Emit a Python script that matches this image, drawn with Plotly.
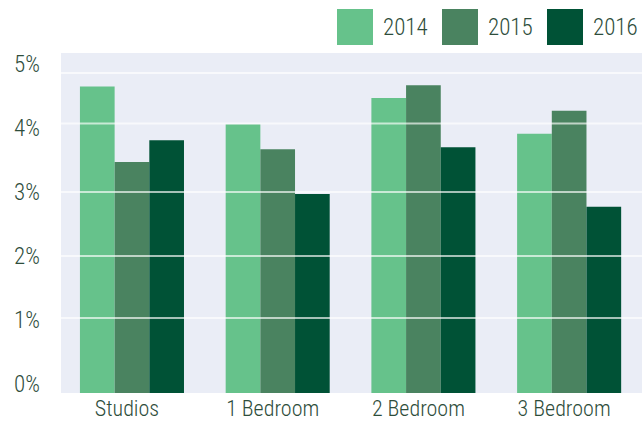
import plotly.graph_objects as go

categories = ["Studios", "1 Bedroom", "2 Bedroom", "3 Bedroom"]
years = ["2014", "2015", "2016"]
values_2014 = [4.79, 4.20, 4.61, 4.05]
values_2015 = [3.61, 3.81, 4.81, 4.41]
values_2016 = [3.95, 3.11, 3.84, 2.91]
series = [values_2014, values_2015, values_2016]
colors = ["#66C28B", "#4A8360", "#005236"]
y_tick_vals = [0, 1, 2, 3, 4, 5]
y_tick_text = ["0%", "1%", "2%", "3%", "4%", "5%"]
grid_vals = [1.17, 2.14, 3.14, 4.21, 5.0]

W, H = 642, 426
ML, MR, MT, MB = 61, 0, 53, 33
FONT = "Roboto Condensed, Liberation Sans Narrow, Arial Narrow, DejaVu Sans Condensed, sans-serif"
TEXT = "#2e4d3b"
WEIGHT = 300

fig = go.Figure()
for name, vals, col in zip(years, series, colors):
    fig.add_trace(go.Bar(x=categories, y=vals, name=name, marker_color=col,
                         marker_line_width=0, showlegend=False, hoverinfo="skip"))

pw = W - ML - MR
ph = H - MT - MB
def px_to_paper_x(px):
    return (px - ML) / pw
def px_to_paper_y(py):
    return (H - MB - py) / ph

shapes = []
annotations = []
sq_left0, sq_step, sq_size, sq_top = 337, 105, 36, 9
for i, (name, col) in enumerate(zip(years, colors)):
    x0 = sq_left0 + i * sq_step
    shapes.append(dict(type="rect", xref="paper", yref="paper",
                       x0=px_to_paper_x(x0), x1=px_to_paper_x(x0 + sq_size),
                       y0=px_to_paper_y(sq_top + sq_size), y1=px_to_paper_y(sq_top),
                       fillcolor=col, line_width=0, layer="above"))
    annotations.append(dict(xref="paper", yref="paper",
                            x=px_to_paper_x(x0 + sq_size + 8), y=px_to_paper_y(sq_top + sq_size / 2),
                            text=name, showarrow=False, xanchor="left", yanchor="middle",
                            font=dict(size=23, color=TEXT, family=FONT, weight=WEIGHT)))

for g in grid_vals:
    shapes.append(dict(type="line", xref="paper", yref="y", x0=0, x1=1, y0=g, y1=g,
                       line=dict(color="rgba(255,255,255,0.65)", width=2), layer="above"))

fig.update_layout(
    width=W, height=H,
    margin=dict(l=ML, r=MR, t=MT, b=MB, pad=0),
    paper_bgcolor="white", plot_bgcolor="#EAEDF6",
    barmode="group", bargap=0.286, bargroupgap=0,
    font=dict(family=FONT, color=TEXT, size=22, weight=WEIGHT),
    shapes=shapes, annotations=annotations,
    showlegend=False,
)
fig.update_xaxes(range=[-0.487, 3.5], showgrid=False, zeroline=False, showline=False,
                 ticks="", ticklabelshift=-5,
                 tickfont=dict(size=22, color=TEXT, family=FONT, weight=WEIGHT),
                 automargin=False)
fig.update_yaxes(range=[0, ph / 64], showgrid=False, zeroline=False, showline=False,
                 tickvals=y_tick_vals, ticktext=y_tick_text, ticks="",
                 ticklabelshift=-9, ticklabelstandoff=20,
                 tickfont=dict(size=23, color=TEXT, family=FONT, weight=WEIGHT),
                 automargin=False)

fig.write_html("out.html", config={"displayModeBar": False},
               post_script="document.body.style.margin='0';document.body.style.padding='0';")
